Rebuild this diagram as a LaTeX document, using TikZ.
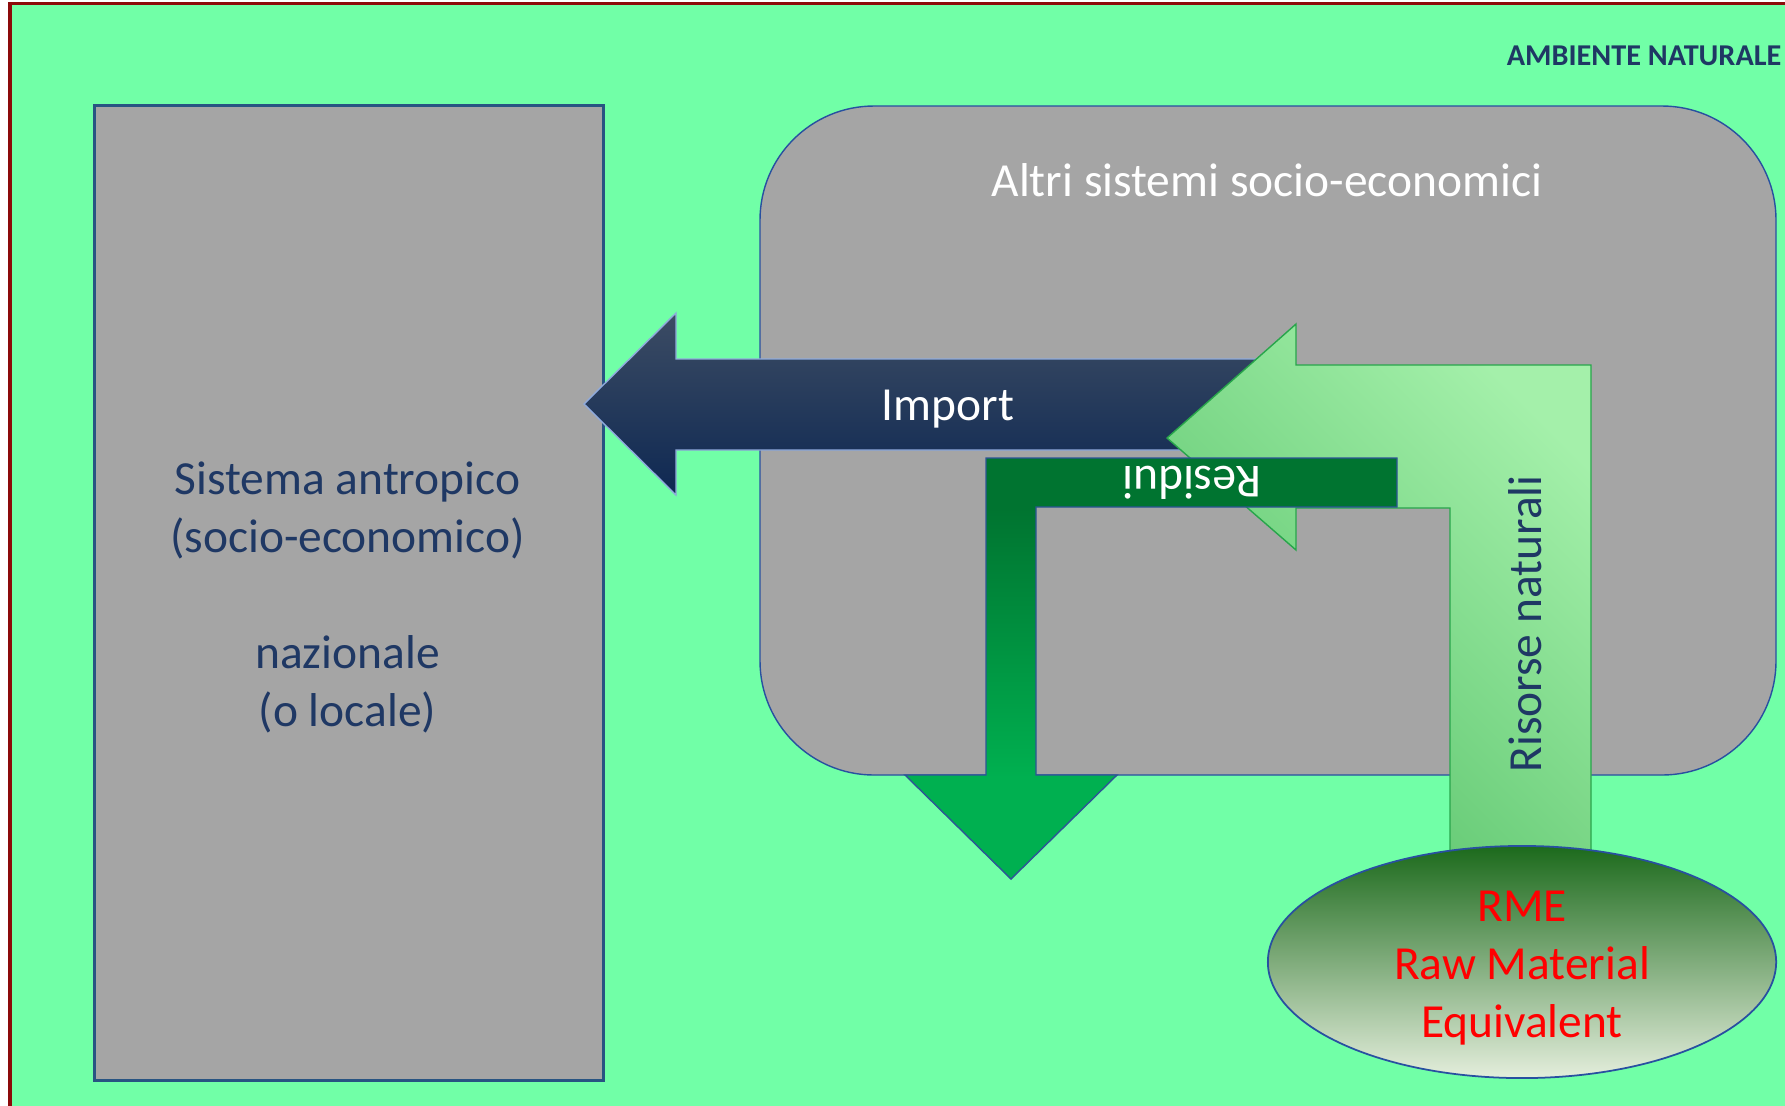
\documentclass[tikz,border=0pt]{standalone}
\usepackage{fontspec}
\setmainfont{Carlito}
\usetikzlibrary{shapes.geometric}

\definecolor{meadow}{RGB}{113,255,167}
\definecolor{framered}{RGB}{140,10,10}
\definecolor{boxgray}{RGB}{165,165,165}
\definecolor{navytext}{RGB}{31,56,100}
\definecolor{navyedge}{RGB}{40,84,130}
\definecolor{blueedge}{RGB}{40,80,160}
\definecolor{importtop}{RGB}{60,76,100}
\definecolor{importbot}{RGB}{14,40,82}
\definecolor{importedge}{RGB}{143,170,220}
\definecolor{rislight}{RGB}{164,240,170}
\definecolor{risdark}{RGB}{88,194,106}
\definecolor{risedge}{RGB}{40,165,75}
\definecolor{resdark}{RGB}{0,116,48}
\definecolor{resbright}{RGB}{0,176,80}
\definecolor{resedge}{RGB}{45,85,150}
\definecolor{rmetop}{RGB}{28,106,28}
\definecolor{rmemid}{RGB}{145,178,106}
\definecolor{rmebot}{RGB}{228,238,220}

% dark bar on top, bright green towards the arrow head
\pgfdeclareverticalshading{residuishade}{100bp}{%
  color(0bp)=(resbright); color(37bp)=(resbright);
  color(69bp)=(resdark); color(100bp)=(resdark)}

\begin{document}
\begin{tikzpicture}[x=0.01cm, y=-0.01cm,
  txt/.style={font=\fontsize{13.5}{16.5}\selectfont, inner sep=0pt, align=center},
  thinedge/.style={line width=0.4pt}]

\useasboundingbox (0,0) rectangle (1785,1105);
\fill[white] (0,0) rectangle (1785,1105);

% natural environment frame
\begin{scope}
  \clip (0,0) rectangle (1785,1105);
  \fill[meadow] (10,3.5) rectangle (1800,1120);
  \draw[framered, line width=1pt] (10,3.5) rectangle (1800,1120);
\end{scope}

\node (amb) [font=\bfseries\fontsize{8.6}{10}\selectfont, text=navytext,
  anchor=east, inner sep=0pt] at (1782,56) {AMBIENTE NATURALE};

% national socio-economic system
\node (naz) [draw=navyedge, line width=0.85pt, fill=boxgray,
  minimum width=5.09cm, minimum height=9.74cm, anchor=north west]
  at (93,104) {};
\node (naztext) [txt, text=navytext] at (347.5,597)
  {Sistema antropico\\(socio-economico)\\~\\nazionale\\(o locale)};

% other socio-economic systems
\draw[draw=blueedge, thinedge, fill=boxgray, rounded corners=1.14cm]
  (760,106) rectangle (1776,775);
\node (altri) [txt, text=white] at (1267,180) {Altri sistemi socio-economici};

% import flow
\draw[draw=importedge, thinedge, top color=importtop, bottom color=importbot]
  (584,404) -- (676,313) -- (676,359) -- (1286,359) -- (1286,450)
  -- (676,450) -- (676,495) -- cycle;
\node (imp) [txt, text=white] at (948,409) {Import};

% natural resources flow
\draw[draw=risedge, thinedge, top color=rislight, bottom color=risdark, shading angle=-45]
  (1167,438) -- (1296,324) -- (1296,365) -- (1591,365) -- (1591,870)
  -- (1450,870) -- (1450,508) -- (1296,508) -- (1296,550) -- cycle;
\node (ris) [txt, text=navytext, rotate=90] at (1525,624) {Risorse naturali};

% residues flow
\draw[draw=resedge, thinedge, shading=residuishade]
  (986,458) -- (1397,458) -- (1397,507) -- (1036,507) -- (1036,775)
  -- (1117,775) -- (1011,879) -- (905,775) -- (986,775) -- cycle;
\node (res) [txt, text=white, rotate=180] at (1192,483) {Residui};

% raw material equivalent
\node (rme) [ellipse, draw=blueedge, line width=0.5pt,
  minimum width=5.08cm, minimum height=2.32cm,
  top color=rmetop, middle color=rmemid, bottom color=rmebot]
  at (1522,962) {};
\node (rmetext) [txt, text=red] at (1522,968) {RME\\Raw Material\\Equivalent};

\end{tikzpicture}
\end{document}
